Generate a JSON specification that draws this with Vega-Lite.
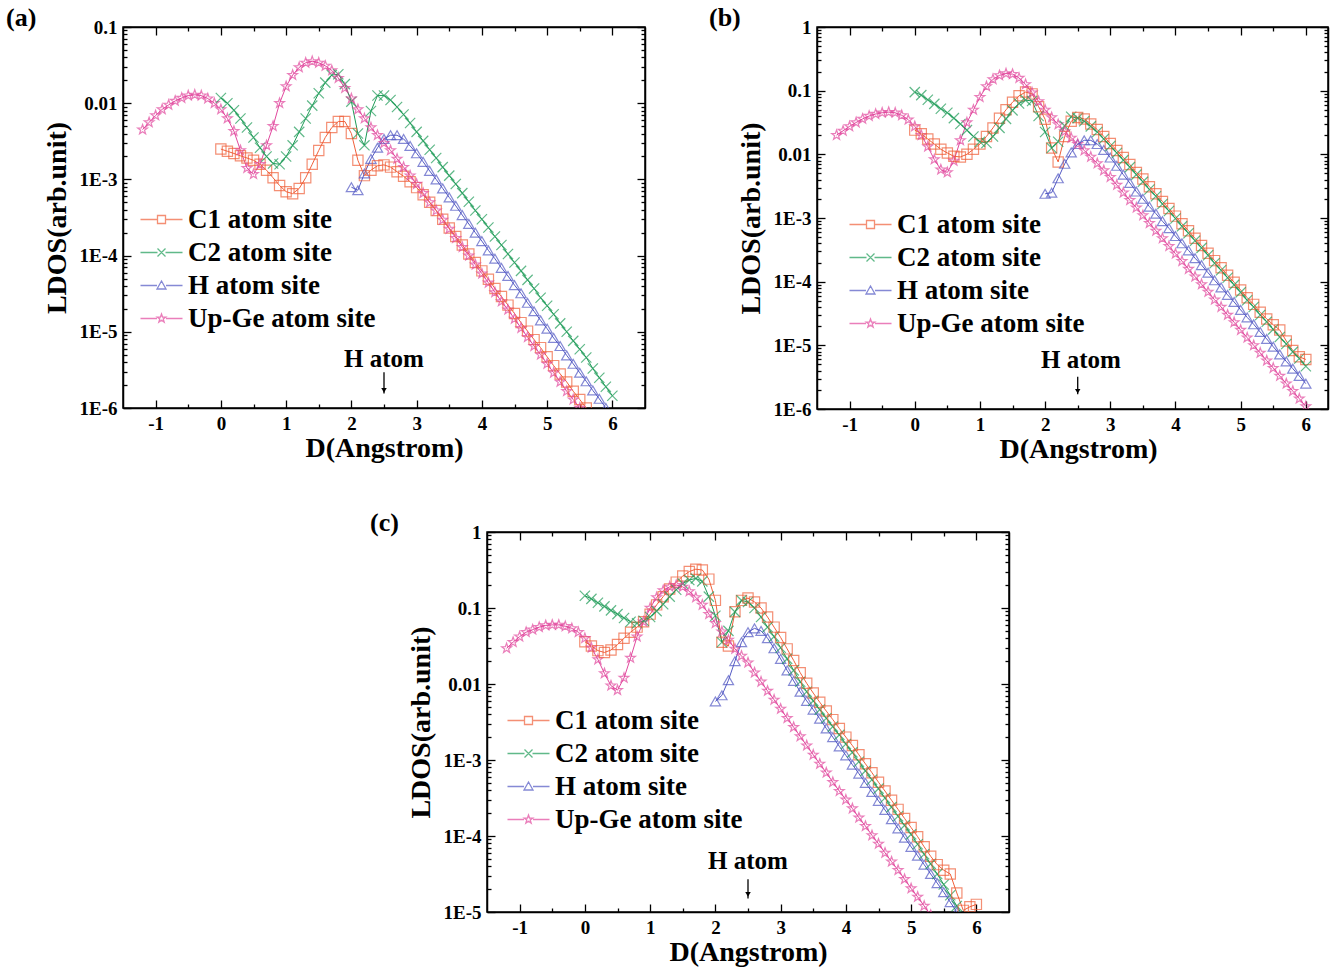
{
"$schema": "https://vega.github.io/schema/vega-lite/v6.json",
"background": "white",
"padding": {"left": 5, "top": 4, "right": 0, "bottom": 0},
"config": {
  "view": {"stroke": "black", "strokeWidth": 1.5},
  "font": "Liberation Serif",
  "axis": {"labelFont": "Liberation Serif", "labelFontWeight": "bold", "labelFontSize": 19, "labelColor": "black", "titleFont": "Liberation Serif", "titleFontWeight": "bold", "titleFontSize": 28, "titleColor": "black", "domainColor": "black", "domainWidth": 1.5, "tickColor": "black", "tickWidth": 1.3, "grid": false, "labelOverlap": false, "labelFlush": false},
  "legend": {"orient": "none", "title": null, "padding": 0, "labelFont": "Liberation Serif", "labelFontSize": 27, "labelFontWeight": "bold", "labelColor": "black", "labelOffset": 13, "labelLimit": 500, "symbolSize": 100, "symbolStrokeWidth": 1.3, "rowPadding": 5},
  "title": {"anchor": "start", "frame": "bounds", "font": "Liberation Serif", "fontSize": 26, "fontWeight": "bold", "color": "black", "baseline": "alphabetic", "offset": -13}
},
"datasets": {
"a": [
{"x":-1.2,"Ge":4.5e-3},{"x":-1.1,"Ge":5.6e-3},{"x":-1.0,"Ge":6.9e-3},{"x":-0.9,"Ge":8.3e-3},{"x":-0.8,"Ge":9.5e-3},{"x":-0.7,"Ge":1.07e-2},{"x":-0.6,"Ge":1.17e-2},{"x":-0.5,"Ge":1.26e-2},{"x":-0.4,"Ge":1.29e-2},{"x":-0.3,"Ge":1.26e-2},{"x":-0.2,"Ge":1.15e-2},{"x":-0.1,"Ge":1.0e-2},
{"x":0.0,"C1":2.5e-3,"C2":1.17e-2,"Ge":8.3e-3},
{"x":0.1,"C1":2.34e-3,"C2":1.0e-2,"Ge":6.3e-3},
{"x":0.2,"C1":2.19e-3,"C2":8.1e-3,"Ge":4.3e-3},
{"x":0.3,"C1":2.04e-3,"C2":6.3e-3,"Ge":2.4e-3},
{"x":0.4,"C1":1.91e-3,"C2":4.8e-3,"Ge":1.41e-3},
{"x":0.5,"C1":1.78e-3,"C2":3.55e-3,"Ge":1.17e-3},
{"x":0.6,"C1":1.58e-3,"C2":2.6e-3,"Ge":1.58e-3},
{"x":0.7,"C1":1.32e-3,"C2":2.0e-3,"Ge":2.8e-3},
{"x":0.8,"C1":1.05e-3,"C2":1.62e-3,"Ge":5.0e-3},
{"x":0.9,"C1":8.3e-4,"C2":1.58e-3,"Ge":1.0e-2},
{"x":1.0,"C1":6.9e-4,"C2":2.0e-3,"Ge":1.66e-2},
{"x":1.1,"C1":6.5e-4,"C2":2.8e-3,"Ge":2.34e-2},
{"x":1.2,"C1":7.6e-4,"C2":4.2e-3,"Ge":2.95e-2},
{"x":1.3,"C1":1.05e-3,"C2":6.3e-3,"Ge":3.39e-2},
{"x":1.4,"C1":1.58e-3,"C2":9.3e-3,"Ge":3.55e-2},
{"x":1.5,"C1":2.4e-3,"C2":1.35e-2,"Ge":3.39e-2},
{"x":1.6,"C1":3.55e-3,"C2":1.86e-2,"Ge":3.09e-2},
{"x":1.7,"C1":4.8e-3,"C2":2.34e-2,"Ge":2.69e-2},
{"x":1.8,"C1":5.75e-3,"C2":2.4e-2,"Ge":2.14e-2},
{"x":1.9,"C1":5.75e-3,"C2":1.78e-2,"Ge":1.58e-2},
{"x":2.0,"C1":4.0e-3,"C2":1.05e-2,"H":7.9e-4,"Ge":1.15e-2},
{"x":2.1,"C1":1.78e-3,"C2":4.0e-3,"H":7.2e-4,"Ge":8.3e-3},
{"x":2.2,"C1":1.12e-3,"C2":2.8e-3,"H":1.2e-3,"Ge":6.3e-3},
{"x":2.3,"C1":1.32e-3,"C2":7.9e-3,"H":1.86e-3,"Ge":4.8e-3},
{"x":2.4,"C1":1.51e-3,"C2":1.26e-2,"H":2.6e-3,"Ge":3.8e-3},
{"x":2.5,"C1":1.55e-3,"C2":1.26e-2,"H":3.4e-3,"Ge":3.0e-3},
{"x":2.6,"C1":1.45e-3,"C2":1.1e-2,"H":3.8e-3,"Ge":2.4e-3},
{"x":2.7,"C1":1.26e-3,"C2":8.9e-3,"H":3.8e-3,"Ge":1.86e-3},
{"x":2.8,"C1":1.1e-3,"C2":7.1e-3,"H":3.4e-3,"Ge":1.45e-3},
{"x":2.9,"C1":9.3e-4,"C2":5.5e-3,"H":2.75e-3,"Ge":1.12e-3},
{"x":3.0,"C1":7.8e-4,"C2":4.2e-3,"H":2.2e-3,"Ge":8.7e-4},
{"x":3.1,"C1":6.3e-4,"C2":3.2e-3,"H":1.7e-3,"Ge":6.6e-4},
{"x":3.2,"C1":5.0e-4,"C2":2.45e-3,"H":1.29e-3,"Ge":5.0e-4},
{"x":3.3,"C1":3.9e-4,"C2":1.91e-3,"H":1.0e-3,"Ge":3.9e-4},
{"x":3.4,"C1":3.0e-4,"C2":1.45e-3,"H":7.6e-4,"Ge":2.95e-4},
{"x":3.5,"C1":2.3e-4,"C2":1.12e-3,"H":5.8e-4,"Ge":2.24e-4},
{"x":3.6,"C1":1.78e-4,"C2":8.7e-4,"H":4.5e-4,"Ge":1.7e-4},
{"x":3.7,"C1":1.38e-4,"C2":6.6e-4,"H":3.4e-4,"Ge":1.29e-4},
{"x":3.8,"C1":1.05e-4,"C2":5.1e-4,"H":2.6e-4,"Ge":1.0e-4},
{"x":3.9,"C1":8.1e-5,"C2":3.9e-4,"H":2.0e-4,"Ge":7.6e-5},
{"x":4.0,"C1":6.3e-5,"C2":3.0e-4,"H":1.55e-4,"Ge":5.8e-5},
{"x":4.1,"C1":4.9e-5,"C2":2.34e-4,"H":1.17e-4,"Ge":4.4e-5},
{"x":4.2,"C1":3.7e-5,"C2":1.78e-4,"H":9.1e-5,"Ge":3.3e-5},
{"x":4.3,"C1":2.9e-5,"C2":1.38e-4,"H":6.9e-5,"Ge":2.5e-5},
{"x":4.4,"C1":2.24e-5,"C2":1.05e-4,"H":5.4e-5,"Ge":1.95e-5},
{"x":4.5,"C1":1.74e-5,"C2":8.1e-5,"H":4.1e-5,"Ge":1.48e-5},
{"x":4.6,"C1":1.32e-5,"C2":6.3e-5,"H":3.2e-5,"Ge":1.12e-5},
{"x":4.7,"C1":1.02e-5,"C2":4.8e-5,"H":2.4e-5,"Ge":8.5e-6},
{"x":4.8,"C1":7.9e-6,"C2":3.7e-5,"H":1.86e-5,"Ge":6.5e-6},
{"x":4.9,"C1":6.2e-6,"C2":2.8e-5,"H":1.41e-5,"Ge":5.0e-6},
{"x":5.0,"C1":4.7e-6,"C2":2.2e-5,"H":1.1e-5,"Ge":3.8e-6},
{"x":5.1,"C1":3.6e-6,"C2":1.7e-5,"H":8.3e-6,"Ge":2.9e-6},
{"x":5.2,"C1":2.8e-6,"C2":1.29e-5,"H":6.5e-6,"Ge":2.2e-6},
{"x":5.3,"C1":2.2e-6,"C2":1.0e-5,"H":4.9e-6,"Ge":1.66e-6},
{"x":5.4,"C1":1.66e-6,"C2":7.6e-6,"H":3.8e-6,"Ge":1.29e-6},
{"x":5.5,"C1":1.29e-6,"C2":5.9e-6,"H":2.9e-6,"Ge":1.0e-6},
{"x":5.6,"C1":1.0e-6,"C2":4.6e-6,"H":2.24e-6},
{"x":5.7,"C2":3.3e-6,"H":1.7e-6},
{"x":5.8,"C2":2.5e-6,"H":1.32e-6},
{"x":5.9,"C2":1.9e-6,"H":1.0e-6},
{"x":6.0,"C2":1.45e-6}
],
"b": [
{"x":-1.2,"Ge":2.0e-2},{"x":-1.1,"Ge":2.34e-2},{"x":-1.0,"Ge":2.75e-2},{"x":-0.9,"Ge":3.16e-2},{"x":-0.8,"Ge":3.6e-2},{"x":-0.7,"Ge":4.0e-2},{"x":-0.6,"Ge":4.3e-2},{"x":-0.5,"Ge":4.5e-2},{"x":-0.4,"Ge":4.6e-2},{"x":-0.3,"Ge":4.5e-2},{"x":-0.2,"Ge":4.1e-2},{"x":-0.1,"Ge":3.5e-2},
{"x":0.0,"C1":2.4e-2,"C2":9.5e-2,"Ge":2.75e-2},
{"x":0.1,"C1":2.1e-2,"C2":8.5e-2,"Ge":2.0e-2},
{"x":0.2,"C1":1.74e-2,"C2":7.2e-2,"Ge":1.32e-2},
{"x":0.3,"C1":1.45e-2,"C2":6.2e-2,"Ge":8.3e-3},
{"x":0.4,"C1":1.2e-2,"C2":5.2e-2,"Ge":5.75e-3},
{"x":0.5,"C1":1.05e-2,"C2":4.5e-2,"Ge":5.2e-3},
{"x":0.6,"C1":9.3e-3,"C2":3.7e-2,"Ge":7.9e-3},
{"x":0.7,"C1":9.1e-3,"C2":3.0e-2,"Ge":1.66e-2},
{"x":0.8,"C1":1.0e-2,"C2":2.4e-2,"Ge":3.16e-2},
{"x":0.9,"C1":1.2e-2,"C2":1.91e-2,"Ge":5.0e-2},
{"x":1.0,"C1":1.45e-2,"C2":1.58e-2,"Ge":7.9e-2},
{"x":1.1,"C1":1.91e-2,"C2":1.51e-2,"Ge":0.117},
{"x":1.2,"C1":2.6e-2,"C2":1.91e-2,"Ge":0.151},
{"x":1.3,"C1":3.7e-2,"C2":2.6e-2,"Ge":0.174},
{"x":1.4,"C1":5.0e-2,"C2":3.6e-2,"Ge":0.186},
{"x":1.5,"C1":6.6e-2,"C2":4.9e-2,"Ge":0.182},
{"x":1.6,"C1":8.3e-2,"C2":6.3e-2,"Ge":0.158},
{"x":1.7,"C1":9.5e-2,"C2":7.1e-2,"Ge":0.126},
{"x":1.8,"C1":8.9e-2,"C2":6.9e-2,"Ge":9.3e-2},
{"x":1.9,"C1":5.6e-2,"C2":4.0e-2,"Ge":6.8e-2},
{"x":2.0,"C1":3.55e-2,"C2":2.24e-2,"H":2.4e-3,"Ge":5.0e-2},
{"x":2.1,"C1":1.26e-2,"C2":1.26e-2,"H":2.5e-3,"Ge":3.8e-2},
{"x":2.2,"C1":7.6e-3,"C2":1.58e-2,"H":4.2e-3,"Ge":2.95e-2},
{"x":2.3,"C1":1.91e-2,"C2":2.8e-2,"H":7.1e-3,"Ge":2.29e-2},
{"x":2.4,"C1":3.3e-2,"C2":3.9e-2,"H":1.07e-2,"Ge":1.82e-2},
{"x":2.5,"C1":3.8e-2,"C2":3.7e-2,"H":1.45e-2,"Ge":1.45e-2},
{"x":2.6,"C1":3.6e-2,"C2":3.3e-2,"H":1.66e-2,"Ge":1.15e-2},
{"x":2.7,"C1":3.0e-2,"C2":2.75e-2,"H":1.66e-2,"Ge":9.1e-3},
{"x":2.8,"C1":2.45e-2,"C2":2.24e-2,"H":1.45e-2,"Ge":7.2e-3},
{"x":2.9,"C1":1.91e-2,"C2":1.74e-2,"H":1.17e-2,"Ge":5.6e-3},
{"x":3.0,"C1":1.48e-2,"C2":1.35e-2,"H":8.9e-3,"Ge":4.4e-3},
{"x":3.1,"C1":1.15e-2,"C2":1.05e-2,"H":6.6e-3,"Ge":3.3e-3},
{"x":3.2,"C1":8.9e-3,"C2":8.1e-3,"H":4.8e-3,"Ge":2.5e-3},
{"x":3.3,"C1":6.9e-3,"C2":6.3e-3,"H":3.55e-3,"Ge":1.91e-3},
{"x":3.4,"C1":5.2e-3,"C2":4.8e-3,"H":2.6e-3,"Ge":1.45e-3},
{"x":3.5,"C1":4.1e-3,"C2":3.7e-3,"H":2.0e-3,"Ge":1.1e-3},
{"x":3.6,"C1":3.1e-3,"C2":2.8e-3,"H":1.51e-3,"Ge":8.3e-4},
{"x":3.7,"C1":2.4e-3,"C2":2.2e-3,"H":1.17e-3,"Ge":6.3e-4},
{"x":3.8,"C1":1.82e-3,"C2":1.66e-3,"H":8.9e-4,"Ge":4.8e-4},
{"x":3.9,"C1":1.41e-3,"C2":1.29e-3,"H":6.9e-4,"Ge":3.6e-4},
{"x":4.0,"C1":1.07e-3,"C2":9.8e-4,"H":5.2e-4,"Ge":2.75e-4},
{"x":4.1,"C1":8.1e-4,"C2":7.4e-4,"H":4.0e-4,"Ge":2.1e-4},
{"x":4.2,"C1":6.3e-4,"C2":5.75e-4,"H":3.1e-4,"Ge":1.58e-4},
{"x":4.3,"C1":4.8e-4,"C2":4.4e-4,"H":2.34e-4,"Ge":1.2e-4},
{"x":4.4,"C1":3.7e-4,"C2":3.4e-4,"H":1.82e-4,"Ge":9.1e-5},
{"x":4.5,"C1":2.8e-4,"C2":2.6e-4,"H":1.38e-4,"Ge":6.9e-5},
{"x":4.6,"C1":2.14e-4,"C2":1.95e-4,"H":1.05e-4,"Ge":5.2e-5},
{"x":4.7,"C1":1.66e-4,"C2":1.51e-4,"H":8.1e-5,"Ge":4.0e-5},
{"x":4.8,"C1":1.26e-4,"C2":1.15e-4,"H":6.2e-5,"Ge":3.0e-5},
{"x":4.9,"C1":9.8e-5,"C2":8.9e-5,"H":4.8e-5,"Ge":2.3e-5},
{"x":5.0,"C1":7.4e-5,"C2":6.8e-5,"H":3.6e-5,"Ge":1.74e-5},
{"x":5.1,"C1":5.6e-5,"C2":5.1e-5,"H":2.75e-5,"Ge":1.32e-5},
{"x":5.2,"C1":4.4e-5,"C2":4.0e-5,"H":2.14e-5,"Ge":1.0e-5},
{"x":5.3,"C1":3.3e-5,"C2":3.0e-5,"H":1.62e-5,"Ge":7.6e-6},
{"x":5.4,"C1":2.6e-5,"C2":2.34e-5,"H":1.26e-5,"Ge":5.75e-6},
{"x":5.5,"C1":2.1e-5,"C2":1.78e-5,"H":9.5e-6,"Ge":4.4e-6},
{"x":5.6,"C1":1.74e-5,"C2":1.35e-5,"H":7.2e-6,"Ge":3.3e-6},
{"x":5.7,"C1":1.17e-5,"C2":1.05e-5,"H":5.6e-6,"Ge":2.5e-6},
{"x":5.8,"C1":8.3e-6,"C2":7.9e-6,"H":4.3e-6,"Ge":1.91e-6},
{"x":5.9,"C1":6.6e-6,"C2":6.2e-6,"H":3.3e-6,"Ge":1.45e-6},
{"x":6.0,"C1":6.0e-6,"C2":4.7e-6,"H":2.5e-6,"Ge":1.1e-6}
],
"c": [
{"x":-1.2,"Ge":2.95e-2},{"x":-1.1,"Ge":3.55e-2},{"x":-1.0,"Ge":4.2e-2},{"x":-0.9,"Ge":4.8e-2},{"x":-0.8,"Ge":5.2e-2},{"x":-0.7,"Ge":5.6e-2},{"x":-0.6,"Ge":5.9e-2},{"x":-0.5,"Ge":6.0e-2},{"x":-0.4,"Ge":6.0e-2},{"x":-0.3,"Ge":5.75e-2},{"x":-0.2,"Ge":5.4e-2},{"x":-0.1,"Ge":4.8e-2},
{"x":0.0,"C1":3.6e-2,"C2":0.145,"Ge":4.0e-2},
{"x":0.1,"C1":3.16e-2,"C2":0.132,"Ge":3.0e-2},
{"x":0.2,"C1":2.75e-2,"C2":0.117,"Ge":2.1e-2},
{"x":0.3,"C1":2.6e-2,"C2":0.105,"Ge":1.38e-2},
{"x":0.4,"C1":2.8e-2,"C2":9.3e-2,"Ge":9.5e-3},
{"x":0.5,"C1":3.3e-2,"C2":8.3e-2,"Ge":8.3e-3},
{"x":0.6,"C1":4.0e-2,"C2":7.4e-2,"Ge":1.2e-2},
{"x":0.7,"C1":4.8e-2,"C2":6.6e-2,"Ge":2.2e-2},
{"x":0.8,"C1":5.6e-2,"C2":6.3e-2,"Ge":4.2e-2},
{"x":0.9,"C1":6.6e-2,"C2":6.8e-2,"Ge":6.6e-2},
{"x":1.0,"C1":8.3e-2,"C2":7.6e-2,"Ge":0.1},
{"x":1.1,"C1":0.11,"C2":9.1e-2,"Ge":0.138},
{"x":1.2,"C1":0.141,"C2":0.112,"Ge":0.17},
{"x":1.3,"C1":0.178,"C2":0.141,"Ge":0.19},
{"x":1.4,"C1":0.219,"C2":0.174,"Ge":0.2},
{"x":1.5,"C1":0.263,"C2":0.209,"Ge":0.19},
{"x":1.6,"C1":0.302,"C2":0.234,"Ge":0.166},
{"x":1.7,"C1":0.324,"C2":0.245,"Ge":0.138},
{"x":1.8,"C1":0.316,"C2":0.224,"Ge":0.11},
{"x":1.9,"C1":0.24,"C2":0.141,"Ge":8.3e-2},
{"x":2.0,"C1":0.126,"C2":7.9e-2,"H":5.9e-3,"Ge":6.3e-2},
{"x":2.1,"C1":3.55e-2,"C2":3.55e-2,"H":7.1e-3,"Ge":4.9e-2},
{"x":2.2,"C1":3.16e-2,"C2":5.0e-2,"H":1.12e-2,"Ge":3.8e-2},
{"x":2.3,"C1":8.9e-2,"C2":8.9e-2,"H":2.0e-2,"Ge":2.9e-2},
{"x":2.4,"C1":0.126,"C2":0.126,"H":3.55e-2,"Ge":2.34e-2},
{"x":2.5,"C1":0.135,"C2":0.12,"H":4.8e-2,"Ge":1.91e-2},
{"x":2.6,"C1":0.12,"C2":0.1,"H":5.4e-2,"Ge":1.41e-2},
{"x":2.7,"C1":0.1,"C2":7.6e-2,"H":5.0e-2,"Ge":1.07e-2},
{"x":2.8,"C1":7.6e-2,"C2":5.6e-2,"H":4.0e-2,"Ge":8.1e-3},
{"x":2.9,"C1":5.6e-2,"C2":4.2e-2,"H":2.95e-2,"Ge":6.2e-3},
{"x":3.0,"C1":4.1e-2,"C2":3.0e-2,"H":2.14e-2,"Ge":4.7e-3},
{"x":3.1,"C1":2.9e-2,"C2":2.14e-2,"H":1.51e-2,"Ge":3.55e-3},
{"x":3.2,"C1":2.04e-2,"C2":1.51e-2,"H":1.1e-2,"Ge":2.7e-3},
{"x":3.3,"C1":1.41e-2,"C2":1.07e-2,"H":7.9e-3,"Ge":2.04e-3},
{"x":3.4,"C1":1.02e-2,"C2":7.9e-3,"H":6.0e-3,"Ge":1.55e-3},
{"x":3.5,"C1":7.6e-3,"C2":6.0e-3,"H":4.6e-3,"Ge":1.17e-3},
{"x":3.6,"C1":5.75e-3,"C2":4.6e-3,"H":3.5e-3,"Ge":8.9e-4},
{"x":3.7,"C1":4.4e-3,"C2":3.55e-3,"H":2.6e-3,"Ge":6.8e-4},
{"x":3.8,"C1":3.4e-3,"C2":2.75e-3,"H":2.0e-3,"Ge":5.1e-4},
{"x":3.9,"C1":2.6e-3,"C2":2.14e-3,"H":1.51e-3,"Ge":3.9e-4},
{"x":4.0,"C1":2.0e-3,"C2":1.62e-3,"H":1.15e-3,"Ge":3.0e-4},
{"x":4.1,"C1":1.55e-3,"C2":1.26e-3,"H":8.7e-4,"Ge":2.3e-4},
{"x":4.2,"C1":1.17e-3,"C2":9.5e-4,"H":6.6e-4,"Ge":1.74e-4},
{"x":4.3,"C1":8.9e-4,"C2":7.2e-4,"H":5.0e-4,"Ge":1.35e-4},
{"x":4.4,"C1":6.8e-4,"C2":5.5e-4,"H":3.8e-4,"Ge":1.02e-4},
{"x":4.5,"C1":5.1e-4,"C2":4.2e-4,"H":2.9e-4,"Ge":7.9e-5},
{"x":4.6,"C1":3.9e-4,"C2":3.16e-4,"H":2.2e-4,"Ge":6.0e-5},
{"x":4.7,"C1":2.95e-4,"C2":2.4e-4,"H":1.66e-4,"Ge":4.6e-5},
{"x":4.8,"C1":2.24e-4,"C2":1.82e-4,"H":1.26e-4,"Ge":3.55e-5},
{"x":4.9,"C1":1.7e-4,"C2":1.38e-4,"H":9.5e-5,"Ge":2.7e-5},
{"x":5.0,"C1":1.29e-4,"C2":1.05e-4,"H":7.2e-5,"Ge":2.04e-5},
{"x":5.1,"C1":9.8e-5,"C2":7.8e-5,"H":5.5e-5,"Ge":1.58e-5},
{"x":5.2,"C1":7.2e-5,"C2":5.75e-5,"H":4.2e-5,"Ge":1.2e-5},
{"x":5.3,"C1":5.4e-5,"C2":4.3e-5,"H":3.16e-5,"Ge":9.1e-6},
{"x":5.4,"C1":4.2e-5,"C2":3.16e-5,"H":2.4e-5},
{"x":5.5,"C1":3.55e-5,"C2":2.3e-5,"H":1.82e-5},
{"x":5.6,"C1":3.16e-5,"C2":1.66e-5,"H":1.35e-5},
{"x":5.7,"C1":1.78e-5,"C2":1.2e-5,"H":1.0e-5},
{"x":5.8,"C1":1.05e-5,"C2":8.7e-6},
{"x":5.9,"C1":1.17e-5},
{"x":6.0,"C1":1.26e-5}
]
},
"resolve": {"scale": {"color": "independent", "shape": "independent"}},
"spacing": 45,
"vconcat": [
{
"hconcat": [
{
 "width": 522, "height": 381,
 "title": {"text": "(a)", "dx": -37},
 "layer": [
  {"data": {"name": "a"}, "transform": [{"fold": ["C1","C2","H","Ge"], "as": ["s","v"]}, {"filter": "isValid(datum.v)"}],
   "mark": {"type": "line", "strokeWidth": 1, "clip": true},
   "encoding": {
    "x": {"field": "x", "type": "quantitative", "scale": {"domain": [-1.5, 6.5], "nice": false, "zero": false},
          "axis": {"orient": "bottom", "title": "D(Angstrom)", "values": [-1,-0.5,0,0.5,1,1.5,2,2.5,3,3.5,4,4.5,5,5.5,6], "labelExpr": "datum.value % 1 == 0 ? '' + datum.value : ''", "tickSize": {"condition": {"test": "datum.value % 1 != 0", "value": -4}, "value": -8}, "labelPadding": 14, "titlePadding": -3}},
    "y": {"field": "v", "type": "quantitative", "scale": {"type": "log", "domain": [1e-6, 0.1], "nice": false},
          "axis": {"orient": "left", "title": "LDOS(arb.unit)", "values": [1e-6,2e-6,3e-6,4e-6,5e-6,6e-6,7e-6,8e-6,9e-6,1e-5,2e-5,3e-5,4e-5,5e-5,6e-5,7e-5,8e-5,9e-5,1e-4,2e-4,3e-4,4e-4,5e-4,6e-4,7e-4,8e-4,9e-4,0.001,0.002,0.003,0.004,0.005,0.006,0.007,0.008,0.009,0.01,0.02,0.03,0.04,0.05,0.06,0.07,0.08,0.09,0.1],
                   "labelExpr": "abs(log(datum.value)/LN10 - round(log(datum.value)/LN10)) < 1e-6 ? (datum.value >= 0.01 ? '' + datum.value : '1E' + round(log(datum.value)/LN10)) : ''",
                   "tickSize": {"condition": {"test": "abs(log(datum.value)/LN10 - round(log(datum.value)/LN10)) > 1e-6", "value": -4}, "value": -8}, "labelPadding": 14, "titlePadding": 8}},
    "color": {"field": "s", "type": "nominal", "scale": {"domain": ["C1","C2","H","Ge"], "range": ["#f0603a","#1e9c58","#5258c4","#e2489e"]}}
   }},
  {"data": {"name": "a"}, "transform": [{"fold": ["C1","C2","H","Ge"], "as": ["s","v"]}, {"filter": "isValid(datum.v)"}],
   "mark": {"type": "point", "filled": false, "strokeWidth": 1.2, "size": 105, "clip": true},
   "encoding": {
    "x": {"field": "x", "type": "quantitative", "axis": null},
    "y": {"field": "v", "type": "quantitative", "scale": {"type": "log"}, "axis": null},
    "color": {"field": "s", "type": "nominal", "scale": {"domain": ["C1","C2","H","Ge"], "range": ["#f0603a","#1e9c58","#5258c4","#e2489e"]},
      "legend": {"legendX": 25, "legendY": 179, "labelExpr": "datum.value == 'Ge' ? 'Up-Ge atom site' : datum.value + ' atom site'",
        "symbolType": {"expr": "datum.value == 'C1' ? 'M-4.2,0H-0.8M0.8,0H4.2M-0.8,-0.8H0.8V0.8H-0.8Z' : datum.value == 'C2' ? 'M-4.2,0H-0.8M0.8,0H4.2M-0.8,-0.8L0.8,0.8M-0.8,0.8L0.8,-0.8' : datum.value == 'H' ? 'M-4.2,0H-0.9M0.9,0H4.2M0,-0.9L0.9,0.7L-0.9,0.7Z' : 'M-4.2,0H-0.9M0.9,0H4.2M0,-0.9L0.21,-0.29L0.86,-0.28L0.34,0.11L0.53,0.73L0,0.36L-0.53,0.73L-0.34,0.11L-0.86,-0.28L-0.21,-0.29Z'"},
        "encode": {"symbols": {"fill": {"value": "transparent"}}}}},
    "shape": {"field": "s", "type": "nominal", "scale": {"domain": ["Ge","C1","C2","H"], "range": ["M0,-1L0.235,-0.324L0.951,-0.309L0.38,0.124L0.588,0.809L0,0.4L-0.588,0.809L-0.38,0.124L-0.951,-0.309L-0.235,-0.324Z", "square", "M-1,-1L1,1M-1,1L1,-1", "triangle-up"]}, "legend": null}
   }},
  {"data": {"values": [{"x": 2.5, "y": 3.5e-6, "t": "H atom"}]},
   "mark": {"type": "text", "font": "Liberation Serif", "fontSize": 25, "fontWeight": "bold", "baseline": "alphabetic", "align": "center", "color": "black"},
   "encoding": {
    "x": {"field": "x", "type": "quantitative", "axis": {"orient": "top", "title": null, "labels": false, "values": [-1,-0.5,0,0.5,1,1.5,2,2.5,3,3.5,4,4.5,5,5.5,6], "tickSize": {"condition": {"test": "datum.value % 1 != 0", "value": -4}, "value": -8}}},
    "y": {"field": "y", "type": "quantitative", "scale": {"type": "log"}, "axis": {"orient": "right", "title": null, "labels": false, "values": [1e-6,2e-6,3e-6,4e-6,5e-6,6e-6,7e-6,8e-6,9e-6,1e-5,2e-5,3e-5,4e-5,5e-5,6e-5,7e-5,8e-5,9e-5,1e-4,2e-4,3e-4,4e-4,5e-4,6e-4,7e-4,8e-4,9e-4,0.001,0.002,0.003,0.004,0.005,0.006,0.007,0.008,0.009,0.01,0.02,0.03,0.04,0.05,0.06,0.07,0.08,0.09,0.1], "tickSize": {"condition": {"test": "abs(log(datum.value)/LN10 - round(log(datum.value)/LN10)) > 1e-6", "value": -4}, "value": -8}}},
    "text": {"field": "t"}
   }},
  {"data": {"values": [{"x": 2.5, "y": 2.95e-6, "y2": 1.55e-6}]},
   "mark": {"type": "rule", "strokeWidth": 1.3, "color": "black"},
   "encoding": {"x": {"field": "x", "type": "quantitative", "axis": null}, "y": {"field": "y", "type": "quantitative", "scale": {"type": "log"}, "axis": null}, "y2": {"field": "y2"}}},
  {"data": {"values": [{"x": 2.5, "y": 1.7e-6}]},
   "mark": {"type": "point", "shape": "triangle-down", "filled": true, "color": "black", "size": 30, "opacity": 1},
   "encoding": {"x": {"field": "x", "type": "quantitative", "axis": null}, "y": {"field": "y", "type": "quantitative", "scale": {"type": "log"}, "axis": null}}}
 ],
 "resolve": {"axis": {"x": "independent", "y": "independent"}}
},
{
 "width": 511, "height": 382,
 "title": {"text": "(b)", "dx": -28},
 "layer": [
  {"data": {"name": "b"}, "transform": [{"fold": ["C1","C2","H","Ge"], "as": ["s","v"]}, {"filter": "isValid(datum.v)"}],
   "mark": {"type": "line", "strokeWidth": 1, "clip": true},
   "encoding": {
    "x": {"field": "x", "type": "quantitative", "scale": {"domain": [-1.5, 6.34], "nice": false, "zero": false},
          "axis": {"orient": "bottom", "title": "D(Angstrom)", "titleX": 261, "values": [-1,-0.5,0,0.5,1,1.5,2,2.5,3,3.5,4,4.5,5,5.5,6], "labelExpr": "datum.value % 1 == 0 ? '' + datum.value : ''", "tickSize": {"condition": {"test": "datum.value % 1 != 0", "value": -4}, "value": -8}, "labelPadding": 14, "titlePadding": -3}},
    "y": {"field": "v", "type": "quantitative", "scale": {"type": "log", "domain": [1e-6, 1], "nice": false},
          "axis": {"orient": "left", "title": "LDOS(arb.unit)", "values": [1e-6,2e-6,3e-6,4e-6,5e-6,6e-6,7e-6,8e-6,9e-6,1e-5,2e-5,3e-5,4e-5,5e-5,6e-5,7e-5,8e-5,9e-5,1e-4,2e-4,3e-4,4e-4,5e-4,6e-4,7e-4,8e-4,9e-4,0.001,0.002,0.003,0.004,0.005,0.006,0.007,0.008,0.009,0.01,0.02,0.03,0.04,0.05,0.06,0.07,0.08,0.09,0.1,0.2,0.3,0.4,0.5,0.6,0.7,0.8,0.9,1],
                   "labelExpr": "abs(log(datum.value)/LN10 - round(log(datum.value)/LN10)) < 1e-6 ? (datum.value >= 0.01 ? '' + datum.value : '1E' + round(log(datum.value)/LN10)) : ''",
                   "tickSize": {"condition": {"test": "abs(log(datum.value)/LN10 - round(log(datum.value)/LN10)) > 1e-6", "value": -4}, "value": -8}, "labelPadding": 14, "titlePadding": 8}},
    "color": {"field": "s", "type": "nominal", "scale": {"domain": ["C1","C2","H","Ge"], "range": ["#f0603a","#1e9c58","#5258c4","#e2489e"]}}
   }},
  {"data": {"name": "b"}, "transform": [{"fold": ["C1","C2","H","Ge"], "as": ["s","v"]}, {"filter": "isValid(datum.v)"}],
   "mark": {"type": "point", "filled": false, "strokeWidth": 1.2, "size": 105, "clip": true},
   "encoding": {
    "x": {"field": "x", "type": "quantitative", "axis": null},
    "y": {"field": "v", "type": "quantitative", "scale": {"type": "log"}, "axis": null},
    "color": {"field": "s", "type": "nominal", "scale": {"domain": ["C1","C2","H","Ge"], "range": ["#f0603a","#1e9c58","#5258c4","#e2489e"]},
      "legend": {"legendX": 40, "legendY": 184, "labelExpr": "datum.value == 'Ge' ? 'Up-Ge atom site' : datum.value + ' atom site'",
        "symbolType": {"expr": "datum.value == 'C1' ? 'M-4.2,0H-0.8M0.8,0H4.2M-0.8,-0.8H0.8V0.8H-0.8Z' : datum.value == 'C2' ? 'M-4.2,0H-0.8M0.8,0H4.2M-0.8,-0.8L0.8,0.8M-0.8,0.8L0.8,-0.8' : datum.value == 'H' ? 'M-4.2,0H-0.9M0.9,0H4.2M0,-0.9L0.9,0.7L-0.9,0.7Z' : 'M-4.2,0H-0.9M0.9,0H4.2M0,-0.9L0.21,-0.29L0.86,-0.28L0.34,0.11L0.53,0.73L0,0.36L-0.53,0.73L-0.34,0.11L-0.86,-0.28L-0.21,-0.29Z'"},
        "encode": {"symbols": {"fill": {"value": "transparent"}}}}},
    "shape": {"field": "s", "type": "nominal", "scale": {"domain": ["Ge","C1","C2","H"], "range": ["M0,-1L0.235,-0.324L0.951,-0.309L0.38,0.124L0.588,0.809L0,0.4L-0.588,0.809L-0.38,0.124L-0.951,-0.309L-0.235,-0.324Z", "square", "M-1,-1L1,1M-1,1L1,-1", "triangle-up"]}, "legend": null}
   }},
  {"data": {"values": [{"x": 2.55, "y": 4.4e-6, "t": "H atom"}]},
   "mark": {"type": "text", "font": "Liberation Serif", "fontSize": 25, "fontWeight": "bold", "baseline": "alphabetic", "align": "center", "color": "black"},
   "encoding": {
    "x": {"field": "x", "type": "quantitative", "axis": {"orient": "top", "title": null, "labels": false, "values": [-1,-0.5,0,0.5,1,1.5,2,2.5,3,3.5,4,4.5,5,5.5,6], "tickSize": {"condition": {"test": "datum.value % 1 != 0", "value": -4}, "value": -8}}},
    "y": {"field": "y", "type": "quantitative", "scale": {"type": "log"}, "axis": {"orient": "right", "title": null, "labels": false, "values": [1e-6,2e-6,3e-6,4e-6,5e-6,6e-6,7e-6,8e-6,9e-6,1e-5,2e-5,3e-5,4e-5,5e-5,6e-5,7e-5,8e-5,9e-5,1e-4,2e-4,3e-4,4e-4,5e-4,6e-4,7e-4,8e-4,9e-4,0.001,0.002,0.003,0.004,0.005,0.006,0.007,0.008,0.009,0.01,0.02,0.03,0.04,0.05,0.06,0.07,0.08,0.09,0.1,0.2,0.3,0.4,0.5,0.6,0.7,0.8,0.9,1], "tickSize": {"condition": {"test": "abs(log(datum.value)/LN10 - round(log(datum.value)/LN10)) > 1e-6", "value": -4}, "value": -8}}},
    "text": {"field": "t"}
   }},
  {"data": {"values": [{"x": 2.5, "y": 3.2e-6, "y2": 1.7e-6}]},
   "mark": {"type": "rule", "strokeWidth": 1.3, "color": "black"},
   "encoding": {"x": {"field": "x", "type": "quantitative", "axis": null}, "y": {"field": "y", "type": "quantitative", "scale": {"type": "log"}, "axis": null}, "y2": {"field": "y2"}}},
  {"data": {"values": [{"x": 2.5, "y": 1.9e-6}]},
   "mark": {"type": "point", "shape": "triangle-down", "filled": true, "color": "black", "size": 30, "opacity": 1},
   "encoding": {"x": {"field": "x", "type": "quantitative", "axis": null}, "y": {"field": "y", "type": "quantitative", "scale": {"type": "log"}, "axis": null}}}
 ],
 "resolve": {"axis": {"x": "independent", "y": "independent"}}
}
],
"spacing": 61,
"resolve": {"scale": {"color": "independent", "shape": "independent"}}
},
{
"hconcat": [
{
 "width": 246, "height": 10,
 "data": {"values": [{"x": 0}]},
 "mark": {"type": "point", "opacity": 0},
 "encoding": {"x": {"field": "x", "type": "quantitative", "axis": null}},
 "view": {"stroke": null}
},
{
 "width": 522, "height": 380,
 "title": {"text": "(c)", "dx": -37},
 "layer": [
  {"data": {"name": "c"}, "transform": [{"fold": ["C1","C2","H","Ge"], "as": ["s","v"]}, {"filter": "isValid(datum.v)"}],
   "mark": {"type": "line", "strokeWidth": 1, "clip": true},
   "encoding": {
    "x": {"field": "x", "type": "quantitative", "scale": {"domain": [-1.5, 6.5], "nice": false, "zero": false},
          "axis": {"orient": "bottom", "title": "D(Angstrom)", "values": [-1,-0.5,0,0.5,1,1.5,2,2.5,3,3.5,4,4.5,5,5.5,6], "labelExpr": "datum.value % 1 == 0 ? '' + datum.value : ''", "tickSize": {"condition": {"test": "datum.value % 1 != 0", "value": -4}, "value": -8}, "labelPadding": 14, "titlePadding": -3}},
    "y": {"field": "v", "type": "quantitative", "scale": {"type": "log", "domain": [1e-5, 1], "nice": false},
          "axis": {"orient": "left", "title": "LDOS(arb.unit)", "values": [1e-5,2e-5,3e-5,4e-5,5e-5,6e-5,7e-5,8e-5,9e-5,1e-4,2e-4,3e-4,4e-4,5e-4,6e-4,7e-4,8e-4,9e-4,0.001,0.002,0.003,0.004,0.005,0.006,0.007,0.008,0.009,0.01,0.02,0.03,0.04,0.05,0.06,0.07,0.08,0.09,0.1,0.2,0.3,0.4,0.5,0.6,0.7,0.8,0.9,1],
                   "labelExpr": "abs(log(datum.value)/LN10 - round(log(datum.value)/LN10)) < 1e-6 ? (datum.value >= 0.01 ? '' + datum.value : '1E' + round(log(datum.value)/LN10)) : ''",
                   "tickSize": {"condition": {"test": "abs(log(datum.value)/LN10 - round(log(datum.value)/LN10)) > 1e-6", "value": -4}, "value": -8}, "labelPadding": 14, "titlePadding": 8}},
    "color": {"field": "s", "type": "nominal", "scale": {"domain": ["C1","C2","H","Ge"], "range": ["#f0603a","#1e9c58","#5258c4","#e2489e"]}}
   }},
  {"data": {"name": "c"}, "transform": [{"fold": ["C1","C2","H","Ge"], "as": ["s","v"]}, {"filter": "isValid(datum.v)"}],
   "mark": {"type": "point", "filled": false, "strokeWidth": 1.2, "size": 105, "clip": true},
   "encoding": {
    "x": {"field": "x", "type": "quantitative", "axis": null},
    "y": {"field": "v", "type": "quantitative", "scale": {"type": "log"}, "axis": null},
    "color": {"field": "s", "type": "nominal", "scale": {"domain": ["C1","C2","H","Ge"], "range": ["#f0603a","#1e9c58","#5258c4","#e2489e"]},
      "legend": {"legendX": 28, "legendY": 175, "labelExpr": "datum.value == 'Ge' ? 'Up-Ge atom site' : datum.value + ' atom site'",
        "symbolType": {"expr": "datum.value == 'C1' ? 'M-4.2,0H-0.8M0.8,0H4.2M-0.8,-0.8H0.8V0.8H-0.8Z' : datum.value == 'C2' ? 'M-4.2,0H-0.8M0.8,0H4.2M-0.8,-0.8L0.8,0.8M-0.8,0.8L0.8,-0.8' : datum.value == 'H' ? 'M-4.2,0H-0.9M0.9,0H4.2M0,-0.9L0.9,0.7L-0.9,0.7Z' : 'M-4.2,0H-0.9M0.9,0H4.2M0,-0.9L0.21,-0.29L0.86,-0.28L0.34,0.11L0.53,0.73L0,0.36L-0.53,0.73L-0.34,0.11L-0.86,-0.28L-0.21,-0.29Z'"},
        "encode": {"symbols": {"fill": {"value": "transparent"}}}}},
    "shape": {"field": "s", "type": "nominal", "scale": {"domain": ["Ge","C1","C2","H"], "range": ["M0,-1L0.235,-0.324L0.951,-0.309L0.38,0.124L0.588,0.809L0,0.4L-0.588,0.809L-0.38,0.124L-0.951,-0.309L-0.235,-0.324Z", "square", "M-1,-1L1,1M-1,1L1,-1", "triangle-up"]}, "legend": null}
   }},
  {"data": {"values": [{"x": 2.5, "y": 3.7e-5, "t": "H atom"}]},
   "mark": {"type": "text", "font": "Liberation Serif", "fontSize": 25, "fontWeight": "bold", "baseline": "alphabetic", "align": "center", "color": "black"},
   "encoding": {
    "x": {"field": "x", "type": "quantitative", "axis": {"orient": "top", "title": null, "labels": false, "values": [-1,-0.5,0,0.5,1,1.5,2,2.5,3,3.5,4,4.5,5,5.5,6], "tickSize": {"condition": {"test": "datum.value % 1 != 0", "value": -4}, "value": -8}}},
    "y": {"field": "y", "type": "quantitative", "scale": {"type": "log"}, "axis": {"orient": "right", "title": null, "labels": false, "values": [1e-5,2e-5,3e-5,4e-5,5e-5,6e-5,7e-5,8e-5,9e-5,1e-4,2e-4,3e-4,4e-4,5e-4,6e-4,7e-4,8e-4,9e-4,0.001,0.002,0.003,0.004,0.005,0.006,0.007,0.008,0.009,0.01,0.02,0.03,0.04,0.05,0.06,0.07,0.08,0.09,0.1,0.2,0.3,0.4,0.5,0.6,0.7,0.8,0.9,1], "tickSize": {"condition": {"test": "abs(log(datum.value)/LN10 - round(log(datum.value)/LN10)) > 1e-6", "value": -4}, "value": -8}}},
    "text": {"field": "t"}
   }},
  {"data": {"values": [{"x": 2.5, "y": 2.7e-5, "y2": 1.5e-5}]},
   "mark": {"type": "rule", "strokeWidth": 1.3, "color": "black"},
   "encoding": {"x": {"field": "x", "type": "quantitative", "axis": null}, "y": {"field": "y", "type": "quantitative", "scale": {"type": "log"}, "axis": null}, "y2": {"field": "y2"}}},
  {"data": {"values": [{"x": 2.5, "y": 1.7e-5}]},
   "mark": {"type": "point", "shape": "triangle-down", "filled": true, "color": "black", "size": 30, "opacity": 1},
   "encoding": {"x": {"field": "x", "type": "quantitative", "axis": null}, "y": {"field": "y", "type": "quantitative", "scale": {"type": "log"}, "axis": null}}}
 ],
 "resolve": {"axis": {"x": "independent", "y": "independent"}}
}
],
"spacing": 0,
"resolve": {"scale": {"color": "independent", "shape": "independent"}}
}
]
}
